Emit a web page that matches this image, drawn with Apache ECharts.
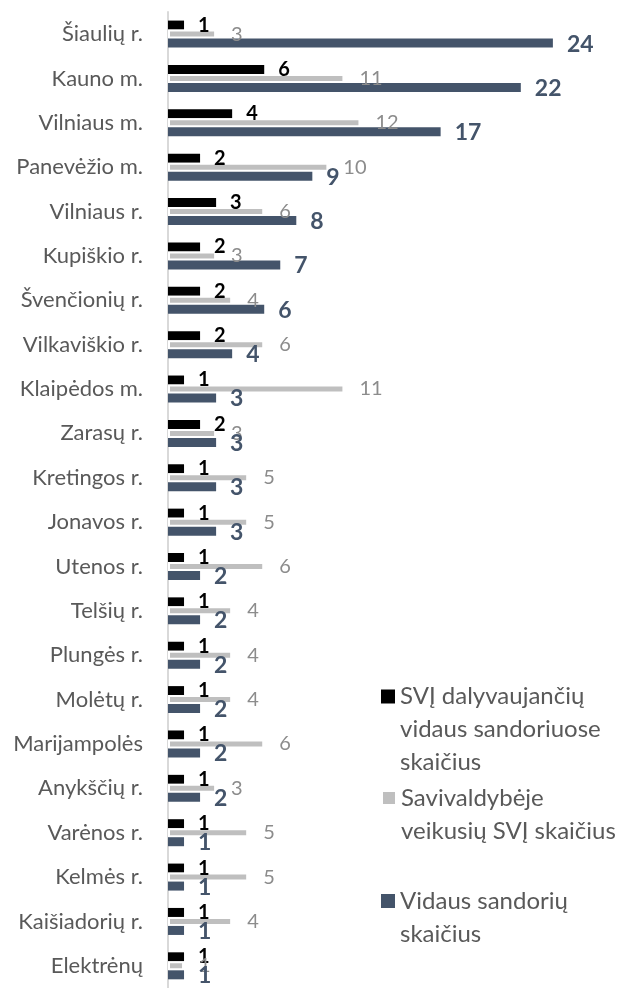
<!DOCTYPE html>
<html>
<head>
<meta charset="utf-8">
<script src="https://cdn.jsdelivr.net/npm/echarts@6/dist/echarts.min.js"></script>
<style>
  html, body { margin: 0; padding: 0; background: #ffffff; }
  #chart { width: 620px; height: 988px; }
</style>
</head>
<body>
<div id="chart"></div>
<script>
const categories = ['Šiaulių r.', 'Kauno m.', 'Vilniaus m.', 'Panevėžio m.', 'Vilniaus r.', 'Kupiškio r.', 'Švenčionių r.', 'Vilkaviškio r.', 'Klaipėdos m.', 'Zarasų r.', 'Kretingos r.', 'Jonavos r.', 'Utenos r.', 'Telšių r.', 'Plungės r.', 'Molėtų r.', 'Marijampolės', 'Anykščių r.', 'Varėnos r.', 'Kelmės r.', 'Kaišiadorių r.', 'Elektrėnų'];
const svjInvolved = [1, 6, 4, 2, 3, 2, 2, 2, 1, 2, 1, 1, 1, 1, 1, 1, 1, 1, 1, 1, 1, 1];
const svjTotal = [3, 11, 12, 10, 6, 3, 4, 6, 11, 3, 5, 5, 6, 4, 4, 4, 6, 3, 5, 5, 4, 1];
const transactions = [24, 22, 17, 9, 8, 7, 6, 4, 3, 3, 3, 3, 2, 2, 2, 2, 2, 2, 1, 1, 1, 1];
const seriesNames = ['SVĮ dalyvaujančių vidaus sandoriuose skaičius', 'Savivaldybėje veikusių SVĮ skaičius', 'Vidaus sandorių skaičius'];
const legendLines = [
  ['SVĮ dalyvaujančių', 'vidaus sandoriuose', 'skaičius'],
  ['Savivaldybėje', 'veikusių SVĮ skaičius'],
  ['Vidaus sandorių', 'skaičius']
];

const FONT = 'Lato';
const LH = 33;
const chart = echarts.init(document.getElementById('chart'), null, { renderer: 'canvas' });

function legendFor(i, iconCenter) {
  const lines = legendLines[i];
  const n = lines.length;
  // pad with blank lines above so that the first real line sits at the icon's centre
  const pad = [];
  for (let k = 0; k < n - 1; k++) pad.push('\u00a0');
  const text = pad.concat(lines).join('\n');
  const total = (2 * n - 1) * LH;
  return {
    data: [seriesNames[i]],
    orient: 'vertical',
    left: 381,
    top: iconCenter - total / 2,
    padding: 0,
    itemWidth: 14,
    itemHeight: 14,
    itemGap: 0,
    icon: 'rect',
    selectedMode: false,
    formatter: function () { return text; },
    textStyle: {
      fontFamily: FONT,
      fontSize: 24,
      color: '#595959',
      lineHeight: LH
    }
  };
}

const option = {
  animation: false,
  backgroundColor: '#ffffff',
  grid: { left: 168, right: 19, top: 11.9, height: 979.5, containLabel: false },
  xAxis: {
    type: 'value', min: 0, max: 27, show: false,
    splitLine: { show: false }
  },
  yAxis: {
    type: 'category',
    data: categories,
    inverse: true,
    offset: 2,
    axisLine: { show: true, lineStyle: { color: '#d9d9d9', width: 2 } },
    axisTick: { show: false },
    axisLabel: { fontFamily: FONT, fontSize: 22, color: '#595959', margin: 23 }
  },
  legend: [
    legendFor(0, 696.5),
    legendFor(1, 798),
    legendFor(2, 901)
  ],
  series: [
    {
      name: seriesNames[0], type: 'bar', data: svjInvolved,
      barWidth: 9, barGap: '0%',
      itemStyle: { color: '#000000' },
      label: { show: true, position: 'right', distance: 14, fontFamily: FONT, fontWeight: 'bold', fontSize: 20, color: '#000000' }
    },
    {
      name: seriesNames[1], type: 'bar', data: svjTotal,
      barWidth: 9, barGap: '0%',
      itemStyle: { color: '#bfbfbf', borderColor: '#ffffff', borderWidth: 2 },
      label: { show: true, position: 'right', distance: 15, fontFamily: FONT, fontSize: 20, color: '#8c8c8c' }
    },
    {
      name: seriesNames[2], type: 'bar', data: transactions,
      barWidth: 9, barGap: '0%',
      itemStyle: { color: '#44546a' },
      label: { show: true, position: 'right', distance: 14, fontFamily: FONT, fontWeight: 'bold', fontSize: 23, color: '#44546a', offset: [0, 1] }
    }
  ]
};
chart.setOption(option);
</script>
</body>
</html>
